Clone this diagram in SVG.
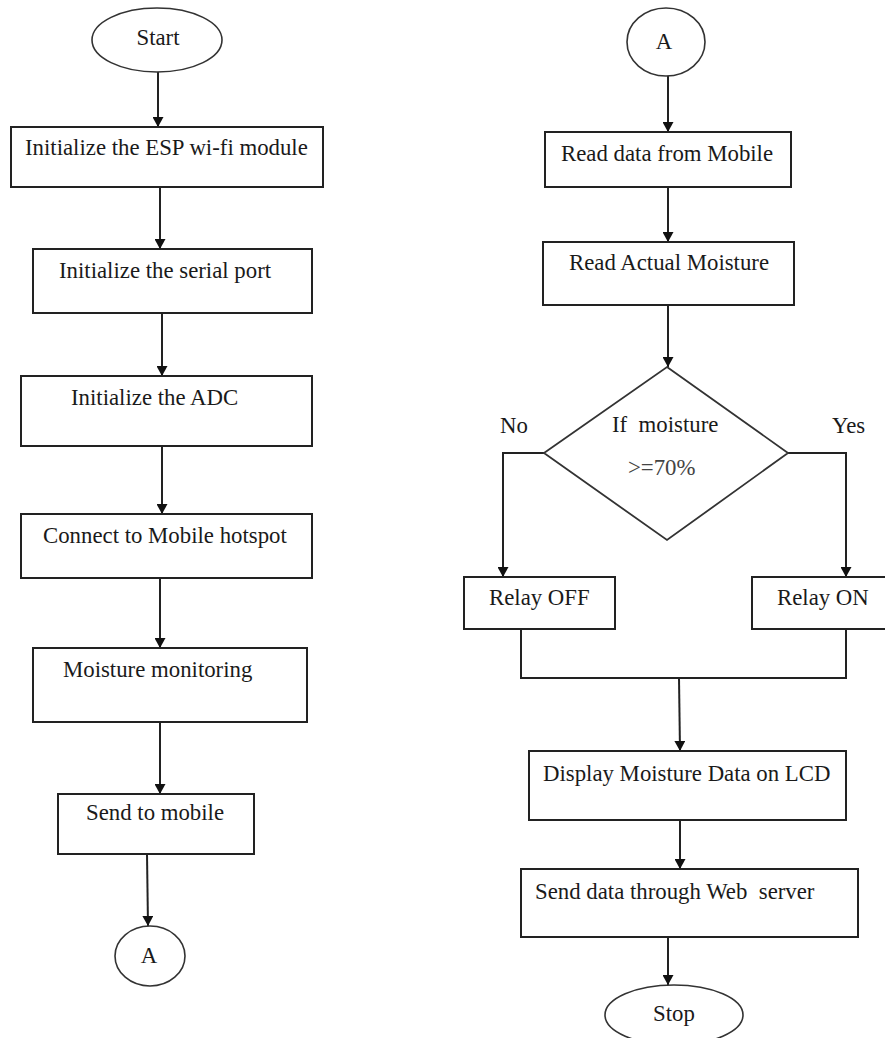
<svg xmlns="http://www.w3.org/2000/svg" width="885" height="1038" viewBox="0 0 885 1038">
<style>
.box{fill:#fff;stroke:#222;stroke-width:2}
.term{fill:#fff;stroke:#333;stroke-width:1.6}
.t{font-family:"Liberation Serif","Times New Roman",serif;font-size:22.8px;fill:#1a1a1a}
.c{text-anchor:middle}
.ln{fill:none;stroke:#222;stroke-width:2}
.lnA{fill:none;stroke:#222;stroke-width:2;marker-end:url(#arr)}
</style>
<defs>
<marker id="arr" markerUnits="userSpaceOnUse" markerWidth="10" markerHeight="11" refX="10" refY="5.5" orient="auto">
<path d="M0,0 L10,5.5 L0,11 z" fill="#111"/>
</marker>
</defs>
<rect width="885" height="1038" fill="#fff"/>

<g id="connectors">
<line class="lnA" x1="158" y1="72" x2="158" y2="127"/>
<line class="lnA" x1="160" y1="187" x2="160" y2="249"/>
<line class="lnA" x1="162" y1="313" x2="162" y2="376"/>
<line class="lnA" x1="162" y1="446" x2="162" y2="514"/>
<line class="lnA" x1="160" y1="578" x2="160" y2="648"/>
<line class="lnA" x1="160" y1="722" x2="160" y2="794"/>
<line class="lnA" x1="147" y1="854" x2="148" y2="926"/>
<line class="lnA" x1="668" y1="76" x2="668" y2="132"/>
<line class="lnA" x1="668" y1="187" x2="668" y2="242"/>
<line class="lnA" x1="668" y1="305" x2="668" y2="367"/>
<polyline class="lnA" points="544,453 503,453 503,577"/>
<polyline class="lnA" points="788,453 846,453 846,577"/>
<polyline class="ln" points="521,629 521,678 846,678 846,629"/>
<line class="lnA" x1="679" y1="678" x2="680" y2="751"/>
<line class="lnA" x1="680" y1="820" x2="680" y2="869"/>
<line class="lnA" x1="668" y1="937" x2="668" y2="985"/>
</g>

<g id="start">
<ellipse class="term" cx="157" cy="40" rx="65" ry="32"/>
<text class="t c" x="158" y="45">Start</text>
</g>
<g id="init-esp">
<rect class="box" x="11" y="127" width="312" height="60"/>
<text class="t" x="25" y="155">Initialize the ESP wi-fi module</text>
</g>
<g id="init-serial">
<rect class="box" x="33" y="249" width="279" height="64"/>
<text class="t" x="59" y="278">Initialize the serial port</text>
</g>
<g id="init-adc">
<rect class="box" x="21" y="376" width="291" height="70"/>
<text class="t" x="71" y="405">Initialize the ADC</text>
</g>
<g id="connect">
<rect class="box" x="21" y="514" width="291" height="64"/>
<text class="t" x="43" y="543">Connect to Mobile hotspot</text>
</g>
<g id="monitor">
<rect class="box" x="33" y="648" width="274" height="74"/>
<text class="t" x="63" y="677">Moisture monitoring</text>
</g>
<g id="send-mobile">
<rect class="box" x="58" y="794" width="196" height="60"/>
<text class="t" x="86" y="820">Send to mobile</text>
</g>
<g id="conn-a-out">
<ellipse class="term" cx="150" cy="956" rx="35" ry="30"/>
<text class="t c" x="149" y="963">A</text>
</g>

<g id="conn-a-in">
<ellipse class="term" cx="666" cy="42" rx="39" ry="34"/>
<text class="t c" x="664" y="49">A</text>
</g>
<g id="read-mobile">
<rect class="box" x="545" y="132" width="246" height="55"/>
<text class="t" x="561" y="161">Read data from Mobile</text>
</g>
<g id="read-moisture">
<rect class="box" x="543" y="242" width="251" height="63"/>
<text class="t" x="569" y="270">Read Actual Moisture</text>
</g>
<g id="decision">
<polygon points="667,367 788,453 667,540 544,453" fill="#fff" stroke="#333" stroke-width="1.8"/>
<text class="t" x="612" y="432" xml:space="preserve">If  moisture</text>
<text class="t" x="628" y="475" style="fill:#444">&gt;=70%</text>
</g>
<text class="t" x="500" y="433">No</text>
<text class="t" x="832" y="433">Yes</text>
<g id="relay-off">
<rect class="box" x="464" y="577" width="151" height="52"/>
<text class="t" x="489" y="605">Relay OFF</text>
</g>
<g id="relay-on">
<rect class="box" x="752" y="577" width="145" height="52"/>
<text class="t" x="777" y="605">Relay ON</text>
</g>
<g id="display">
<rect class="box" x="529" y="751" width="317" height="69"/>
<text class="t" x="543" y="781">Display Moisture Data on LCD</text>
</g>
<g id="web">
<rect class="box" x="521" y="869" width="337" height="68"/>
<text class="t" x="535" y="899" xml:space="preserve">Send data through Web  server</text>
</g>
<g id="stop">
<ellipse class="term" cx="674" cy="1015" rx="69" ry="30"/>
<text class="t c" x="674" y="1021">Stop</text>
</g>
</svg>
